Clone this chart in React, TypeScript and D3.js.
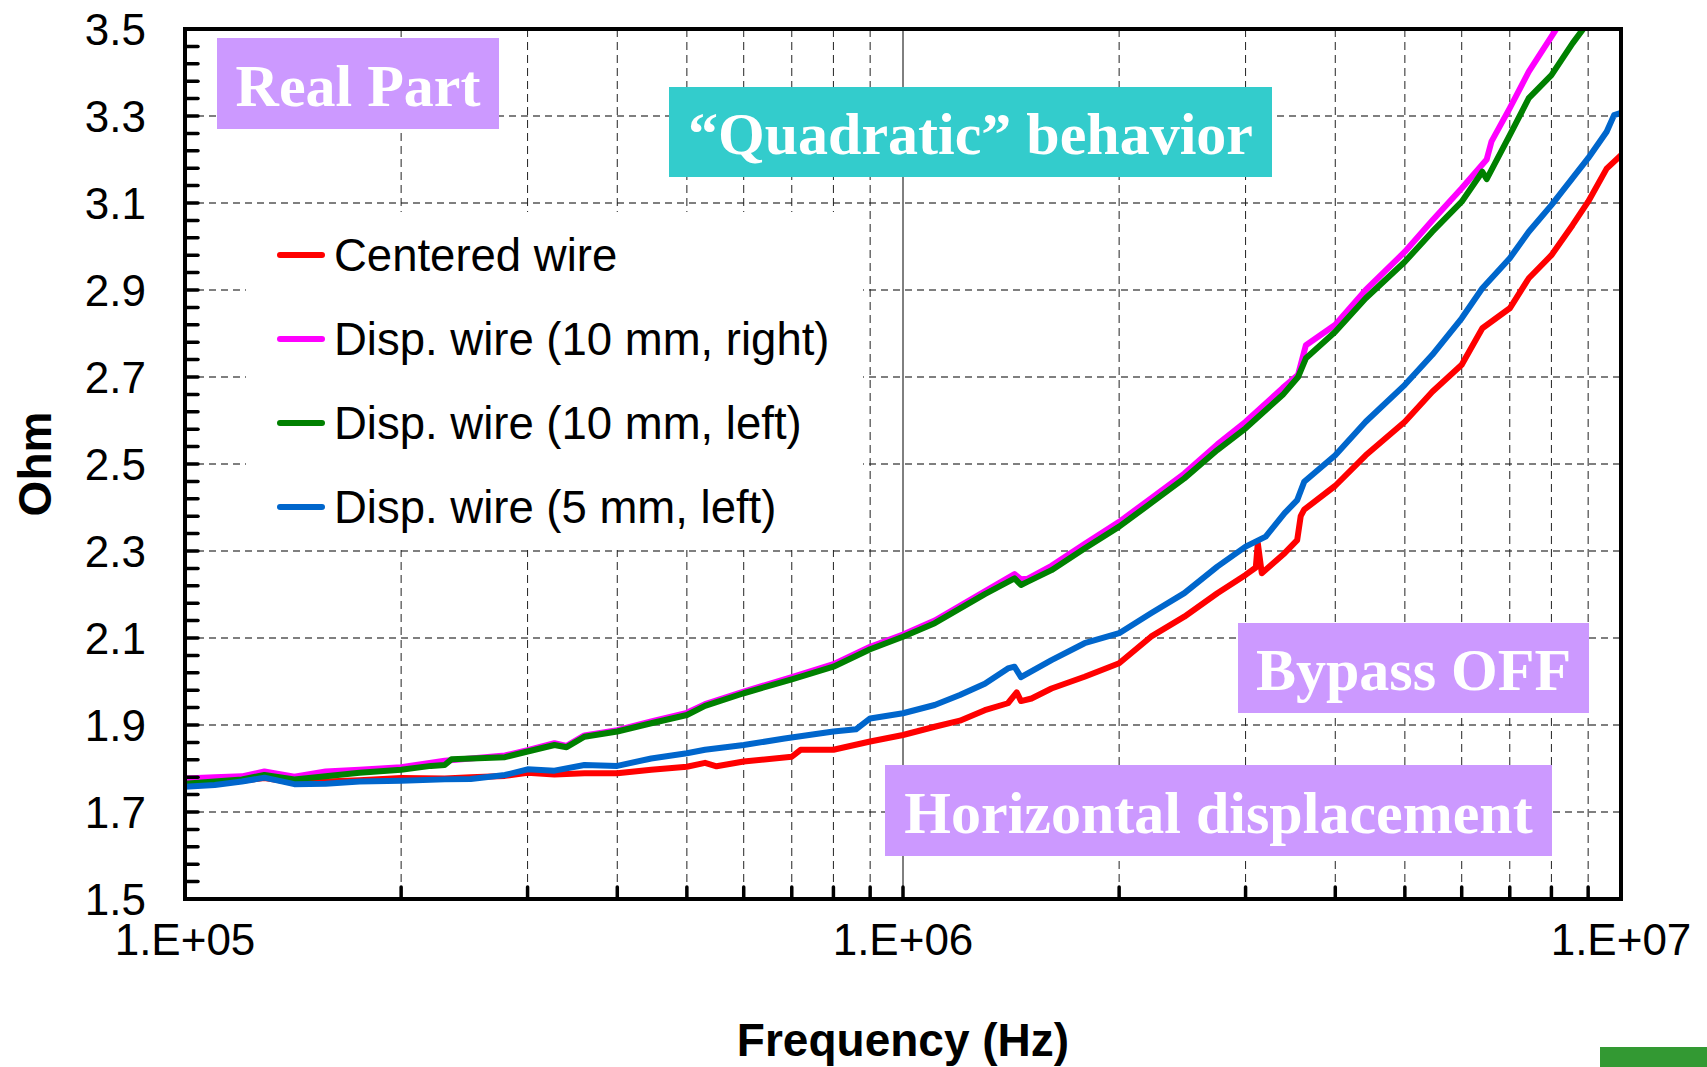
import React from 'react';
import * as d3 from 'd3';

// Canvas and plot frame (pixels)
const WIDTH = 1707;
const HEIGHT = 1067;
const PLOT = { left: 185, right: 1621, top: 29, bottom: 899 };

// Axes
const FREQ_DOMAIN: [number, number] = [1e5, 1e7];
const OHM_DOMAIN: [number, number] = [1.5, 3.5];
const yTickValues = [1.5, 1.7, 1.9, 2.1, 2.3, 2.5, 2.7, 2.9, 3.1, 3.3, 3.5];
const yTickLabels = ['1.5', '1.7', '1.9', '2.1', '2.3', '2.5', '2.7', '2.9', '3.1', '3.3', '3.5'];
const xTickValues = [1e5, 1e6, 1e7];
const xTickLabels = ['1.E+05', '1.E+06', '1.E+07'];

// Centered wire
const centeredFreq = [
  1.0e5, 1.1e5, 1.2e5, 1.29e5, 1.42e5, 1.57e5, 1.75e5, 2.0e5, 2.3e5, 2.5e5, 2.79e5, 3.0e5,
  3.27e5, 3.6e5, 4.0e5, 4.46e5, 5.0e5, 5.3e5, 5.5e5, 6.0e5, 7.0e5, 7.2e5, 8.0e5, 9.0e5,
  1.0e6, 1.107e6, 1.2e6, 1.3e6, 1.4e6, 1.44e6, 1.46e6, 1.51e6, 1.61e6, 1.79e6, 2.0e6,
  2.215e6, 2.465e6, 2.74e6, 3.0e6, 3.1e6, 3.12e6, 3.16e6, 3.4e6, 3.54e6, 3.58e6, 3.62e6,
  4.0e6, 4.41e6, 5.0e6, 5.46e6, 6.0e6, 6.41e6, 7.0e6, 7.44e6, 8.0e6, 8.56e6, 9.0e6,
  9.55e6, 1.0e7,
];
const centeredOhm = [
  1.765, 1.768, 1.772, 1.778, 1.768, 1.770, 1.773, 1.778, 1.777, 1.780, 1.783, 1.790,
  1.786, 1.789, 1.789, 1.797, 1.804, 1.813, 1.805, 1.816, 1.827, 1.843, 1.843, 1.862,
  1.877, 1.896, 1.910, 1.934, 1.950, 1.975, 1.955, 1.961, 1.984, 2.011, 2.042,
  2.103, 2.149, 2.203, 2.245, 2.262, 2.318, 2.249, 2.295, 2.325, 2.380, 2.395,
  2.450, 2.520, 2.597, 2.666, 2.728, 2.812, 2.858, 2.927, 2.980, 3.049, 3.103,
  3.179, 3.210,
];

// Displaced wire, 10 mm to the right
const right10Freq = [
  1.0e5, 1.1e5, 1.2e5, 1.29e5, 1.42e5, 1.57e5, 1.75e5, 2.0e5, 2.3e5, 2.79e5, 3.0e5, 3.27e5,
  3.4e5, 3.6e5, 4.0e5, 4.46e5, 5.0e5, 5.3e5, 6.0e5, 7.0e5, 8.0e5, 9.0e5, 1.0e6, 1.107e6,
  1.3e6, 1.43e6, 1.46e6, 1.49e6, 1.61e6, 1.79e6, 2.0e6, 2.215e6, 2.465e6, 2.74e6, 3.0e6,
  3.38e6, 3.55e6, 3.64e6, 4.0e6, 4.41e6, 5.0e6, 5.46e6, 6.0e6, 6.5e6, 6.6e6, 7.0e6,
  7.44e6, 8.2e6,
];
const right10Ohm = [
  1.777, 1.780, 1.782, 1.793, 1.781, 1.793, 1.797, 1.803, 1.818, 1.830, 1.842, 1.858,
  1.852, 1.876, 1.888, 1.908, 1.928, 1.948, 1.977, 2.010, 2.040, 2.080, 2.108, 2.140,
  2.207, 2.247, 2.235, 2.236, 2.266, 2.316, 2.367, 2.421, 2.478, 2.545, 2.597,
  2.675, 2.705, 2.773, 2.820, 2.900, 2.988, 3.060, 3.134, 3.200, 3.241, 3.318,
  3.402, 3.510,
];

// Displaced wire, 10 mm to the left
const left10Freq = [
  1.0e5, 1.1e5, 1.2e5, 1.29e5, 1.42e5, 1.57e5, 1.75e5, 2.0e5, 2.2e5, 2.3e5, 2.35e5, 2.79e5,
  3.0e5, 3.27e5, 3.4e5, 3.6e5, 4.0e5, 4.46e5, 5.0e5, 5.3e5, 6.0e5, 7.0e5, 8.0e5, 9.0e5,
  1.0e6, 1.107e6, 1.3e6, 1.43e6, 1.46e6, 1.49e6, 1.61e6, 1.79e6, 2.0e6, 2.215e6, 2.465e6,
  2.74e6, 3.0e6, 3.38e6, 3.55e6, 3.64e6, 4.0e6, 4.41e6, 5.0e6, 5.46e6, 6.0e6, 6.41e6,
  6.5e6, 7.0e6, 7.44e6, 8.0e6, 8.56e6, 8.95e6,
];
const left10Ohm = [
  1.765, 1.770, 1.775, 1.785, 1.775, 1.782, 1.790, 1.797, 1.806, 1.808, 1.821, 1.826,
  1.839, 1.854, 1.849, 1.873, 1.885, 1.904, 1.923, 1.944, 1.973, 2.005, 2.034, 2.074,
  2.103, 2.134, 2.201, 2.237, 2.222, 2.229, 2.256, 2.306, 2.356, 2.410, 2.467,
  2.532, 2.582, 2.659, 2.700, 2.743, 2.804, 2.881, 2.965, 3.034, 3.103, 3.172,
  3.155, 3.256, 3.341, 3.394, 3.467, 3.510,
];

// Displaced wire, 5 mm to the left
const left5Freq = [
  1.0e5, 1.1e5, 1.2e5, 1.29e5, 1.42e5, 1.57e5, 1.75e5, 2.0e5, 2.3e5, 2.5e5, 2.79e5, 3.0e5,
  3.27e5, 3.6e5, 4.0e5, 4.46e5, 5.0e5, 5.3e5, 6.0e5, 6.84e5, 8.0e5, 8.6e5, 9.0e5, 1.0e6,
  1.107e6, 1.2e6, 1.3e6, 1.4e6, 1.43e6, 1.46e6, 1.61e6, 1.79e6, 2.0e6, 2.215e6, 2.465e6,
  2.74e6, 3.0e6, 3.2e6, 3.4e6, 3.54e6, 3.62e6, 4.0e6, 4.41e6, 5.0e6, 5.46e6, 6.0e6,
  6.41e6, 7.0e6, 7.44e6, 8.0e6, 8.56e6, 9.0e6, 9.55e6, 9.78e6, 1.0e7,
];
const left5Ohm = [
  1.758, 1.762, 1.770, 1.779, 1.764, 1.765, 1.770, 1.772, 1.775, 1.776, 1.785, 1.798,
  1.795, 1.808, 1.806, 1.823, 1.835, 1.843, 1.854, 1.869, 1.885, 1.890, 1.915, 1.927,
  1.946, 1.969, 1.995, 2.030, 2.034, 2.010, 2.049, 2.088, 2.111, 2.157, 2.203,
  2.264, 2.310, 2.333, 2.387, 2.417, 2.459, 2.520, 2.597, 2.682, 2.751, 2.835,
  2.904, 2.973, 3.034, 3.095, 3.157, 3.203, 3.264, 3.302, 3.307,
];

const seriesNames = [
  'Centered wire',
  'Disp. wire (10 mm, right)',
  'Disp. wire (10 mm, left)',
  'Disp. wire (5 mm, left)',
];
const seriesColors = ['#ff0000', '#ff00ff', '#008000', '#0066cc'];
const seriesFreqs = [centeredFreq, right10Freq, left10Freq, left5Freq];
const seriesOhms = [centeredOhm, right10Ohm, left10Ohm, left5Ohm];

// Text boxes laid over the plot
const noteTexts = ['Real Part', '\u201cQuadratic\u201d behavior', 'Bypass OFF', 'Horizontal displacement'];
const noteFills = ['#cc99ff', '#33cccc', '#cc99ff', '#cc99ff'];
const noteBoxes = [
  { x: 217, y: 38, w: 282, h: 91 },
  { x: 669, y: 87, w: 603, h: 90 },
  { x: 1238, y: 623, w: 351, h: 90 },
  { x: 885, y: 765, w: 667, h: 91 },
];

const SANS = '"Liberation Sans", Arial, Helvetica, sans-serif';
const SERIF = '"Liberation Serif", "Times New Roman", Times, serif';

export default function App() {
  const x = d3.scaleLog().domain(FREQ_DOMAIN).range([PLOT.left, PLOT.right]);
  const y = d3.scaleLinear().domain(OHM_DOMAIN).range([PLOT.bottom, PLOT.top]);

  // Tick positions 1..9 x 10^n across the decades; grid only on 2..9
  const decadeTicks: number[] = [];
  for (let e = 5; e <= 7; e++) {
    for (let k = 1; k <= 9; k++) {
      const v = k * Math.pow(10, e);
      if (v <= FREQ_DOMAIN[1] * 1.0001) decadeTicks.push(v);
    }
  }
  const minorGrid = decadeTicks.filter((v) => {
    const m = v / Math.pow(10, Math.floor(Math.log10(v) + 1e-9));
    return Math.round(m) !== 1;
  });
  const yMinor = d3.range(0, 51).map((i) => 1.5 + i * 0.04);
  const yGrid = yTickValues.slice(1, -1);

  const line = d3
    .line<[number, number]>()
    .x((d) => x(d[0]))
    .y((d) => y(d[1]));

  const legendY = [255, 339, 423, 507];

  return (
    <svg
      width={WIDTH}
      height={HEIGHT}
      viewBox={`0 0 ${WIDTH} ${HEIGHT}`}
      style={{ position: 'absolute', left: 0, top: 0, background: '#ffffff' }}
    >
      <defs>
        <clipPath id="plot-clip">
          <rect x={PLOT.left} y={PLOT.top} width={PLOT.right - PLOT.left} height={PLOT.bottom - PLOT.top} />
        </clipPath>
      </defs>
      <rect x={0} y={0} width={WIDTH} height={HEIGHT} fill="#ffffff" />

      {/* grid */}
      <g>
        {yGrid.map((v) => (
          <line
            key={`hg${v}`}
            x1={PLOT.left}
            x2={PLOT.right}
            y1={y(v)}
            y2={y(v)}
            stroke="#555"
            strokeWidth={1.4}
            strokeDasharray="7,5"
          />
        ))}
        {minorGrid.map((v) => (
          <line
            key={`vg${v}`}
            x1={x(v)}
            x2={x(v)}
            y1={PLOT.top}
            y2={PLOT.bottom}
            stroke="#222"
            strokeWidth={1}
            strokeDasharray="8,5"
          />
        ))}
        <line x1={x(1e6)} x2={x(1e6)} y1={PLOT.top} y2={PLOT.bottom} stroke="#000" strokeWidth={1} />
      </g>

      {/* legend background */}
      <rect x={246} y={212} width={617} height={338} fill="#ffffff" />

      {/* annotation boxes */}
      {noteTexts.map((t, i) => {
        const b = noteBoxes[i];
        return (
          <g key={t}>
            <rect x={b.x} y={b.y} width={b.w} height={b.h} fill={noteFills[i]} />
            <text
              x={b.x + b.w / 2}
              y={b.y + b.h / 2 + 22}
              textAnchor="middle"
              fontFamily={SERIF}
              fontWeight="bold"
              fontSize={60}
              fill="#ffffff"
            >
              {t}
            </text>
          </g>
        );
      })}

      {/* series */}
      <g clipPath="url(#plot-clip)">
        {seriesNames.map((name, i) => {
          const pts = seriesFreqs[i].map((f, j) => [f, seriesOhms[i][j]] as [number, number]);
          return (
            <path
              key={name}
              d={line(pts) || ''}
              fill="none"
              stroke={seriesColors[i]}
              strokeWidth={6}
              strokeLinejoin="round"
              strokeLinecap="round"
            />
          );
        })}
      </g>

      {/* legend entries */}
      {seriesNames.map((name, i) => (
        <g key={`lg${name}`}>
          <line
            x1={280}
            x2={322}
            y1={legendY[i]}
            y2={legendY[i]}
            stroke={seriesColors[i]}
            strokeWidth={6}
            strokeLinecap="round"
          />
          <text x={334} y={legendY[i]} dy="0.35em" fontFamily={SANS} fontSize={45.5} fill="#000">
            {name}
          </text>
        </g>
      ))}

      {/* ticks */}
      <g stroke="#000" strokeWidth={3.5} strokeLinecap="round">
        {yMinor.map((v, i) => (
          <line key={`yt${i}`} x1={PLOT.left} x2={PLOT.left + 13} y1={y(v)} y2={y(v)} />
        ))}
        {decadeTicks.map((v) => (
          <line key={`xt${v}`} x1={x(v)} x2={x(v)} y1={PLOT.bottom} y2={PLOT.bottom - 12} />
        ))}
      </g>

      {/* frame */}
      <rect
        x={PLOT.left}
        y={PLOT.top}
        width={PLOT.right - PLOT.left}
        height={PLOT.bottom - PLOT.top}
        fill="none"
        stroke="#000"
        strokeWidth={4}
      />

      {/* tick labels */}
      {yTickValues.map((v, i) => (
        <text
          key={`yl${v}`}
          x={146}
          y={y(v)}
          dy="0.36em"
          textAnchor="end"
          fontFamily={SANS}
          fontSize={44}
          fill="#000"
        >
          {yTickLabels[i]}
        </text>
      ))}
      {xTickValues.map((v, i) => (
        <text key={`xl${v}`} x={x(v)} y={955} textAnchor="middle" fontFamily={SANS} fontSize={44} fill="#000">
          {xTickLabels[i]}
        </text>
      ))}

      {/* axis titles */}
      <text
        transform={`translate(35, ${(PLOT.top + PLOT.bottom) / 2}) rotate(-90)`}
        textAnchor="middle"
        dy="0.35em"
        fontFamily={SANS}
        fontWeight="bold"
        fontSize={46}
        fill="#000"
      >
        Ohm
      </text>
      <text
        x={(PLOT.left + PLOT.right) / 2}
        y={1056}
        textAnchor="middle"
        fontFamily={SANS}
        fontWeight="bold"
        fontSize={46}
        fill="#000"
      >
        Frequency (Hz)
      </text>

      {/* corner badge */}
      <rect x={1600} y={1047} width={107} height={20} fill="#339933" />
      <text x={1614} y={1096} fontFamily={SANS} fontWeight="bold" fontSize={42} fill="#e8e8e8">
        CERN
      </text>
    </svg>
  );
}
